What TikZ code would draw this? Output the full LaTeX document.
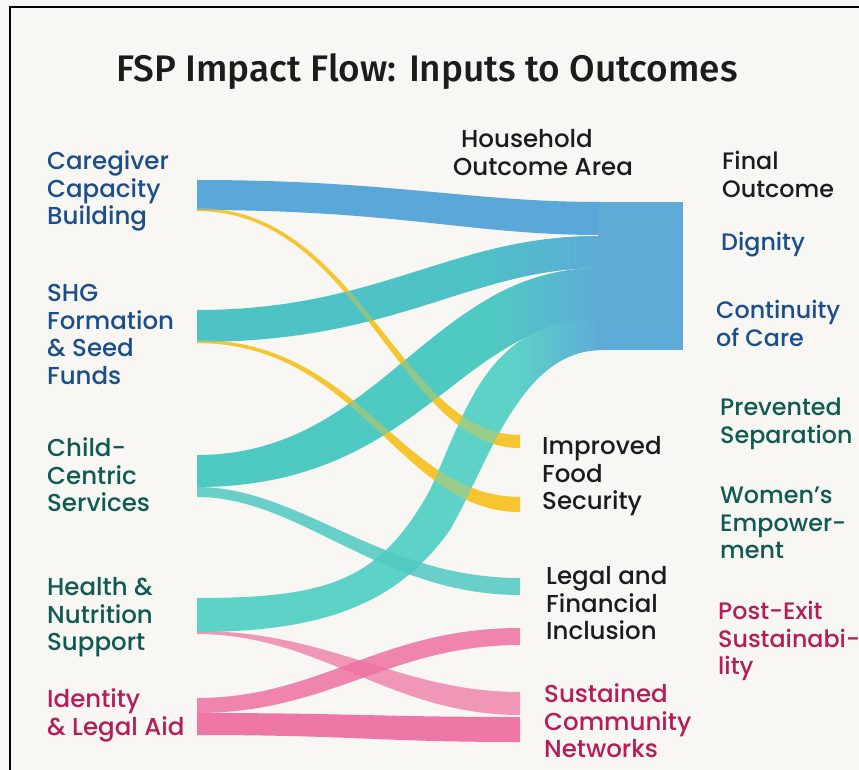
\documentclass[tikz,border=0pt]{standalone}
\usepackage{fontspec}
\setmainfont{Poppins Medium}
\newfontfamily\titlefont{Fira Sans Medium}
\definecolor{bgc}{HTML}{F8F7F4}
\definecolor{blockblue}{HTML}{5EABD7}
\definecolor{cgblue}{HTML}{5AA7D9}
\definecolor{tealA}{HTML}{4DC3C6}
\definecolor{tealB}{HTML}{4FCAC2}
\definecolor{tealC}{HTML}{5DD3C8}
\definecolor{ylw}{HTML}{F6C530}
\definecolor{pinkA}{HTML}{EE71A1}
\definecolor{pinkC}{HTML}{EF86AD}
\definecolor{txblue}{HTML}{1B4F8C}
\definecolor{txteal}{HTML}{0F5B52}
\definecolor{txred}{HTML}{B81B55}
\definecolor{txblack}{HTML}{1C1C1C}
\tikzset{
  lbl/.style={anchor=north west, inner sep=0pt, align=left,
    font=\fontsize{24.5}{27.8}\selectfont},
  rlbl/.style={anchor=north west, inner sep=0pt, align=left,
    font=\fontsize{23.8}{27.8}\selectfont},
  flow/.style={fill opacity=0.85},
}
\newcommand{\st}{\strut}
\begin{document}
\begin{tikzpicture}[x=1pt,y=-1pt]
\useasboundingbox (0,0) rectangle (859,770);
\fill[bgc] (0,0) rectangle (859,770);
\draw[line width=2pt] (10,772) -- (10,7) -- (861,7);

% title
\node[anchor=base, inner sep=0pt, font=\titlefont\fontsize{37}{42}\selectfont, text=txblack] (title) at (427,82) {FSP Impact Flow: Inputs to Outcomes};

% yellow flows (opaque under-layer)
\def\ya{(197,208) .. controls (360,208) and (400,435) .. (520,435) -- (520,448) .. controls (400,448) and (360,211) .. (197,211) -- cycle}
\def\yb{(197,340) .. controls (360,340) and (400,497) .. (520,497) -- (520,512) .. controls (400,512) and (360,343) .. (197,343) -- cycle}
\fill[ylw] \ya;
\fill[ylw] \yb;

% pink flows
\fill[pinkC, fill opacity=0.85] (197,631) .. controls (330,631) and (400,692) .. (520,692) -- (520,715) .. controls (390,715) and (320,634) .. (197,634) -- cycle;
\fill[pinkA, fill opacity=0.85] (197,698) .. controls (320,698) and (380,628) .. (520,628) -- (520,645) .. controls (390,645) and (330,713) .. (197,713) -- cycle;
\fill[pinkA, fill opacity=0.95] (197,713) .. controls (350,713) and (380,717) .. (520,717) -- (520,742) .. controls (380,742) and (350,735) .. (197,735) -- cycle;

% flows into the block
\def\fa{(197,310) .. controls (380,310) and (450,236) .. (600,236) -- (600,268) .. controls (470,268) and (400,342) .. (197,342) -- cycle}
\def\fb{(197,455) .. controls (380,455) and (430,268) .. (600,268) -- (600,320) .. controls (460,320) and (420,487) .. (197,487) -- cycle}
\def\fc{(197,598) .. controls (330,598) and (380,580) .. (430,490) .. controls (470,400) and (490,320) .. (600,320) -- (600,350) .. controls (520,352) and (490,460) .. (450,530) .. controls (400,600) and (330,632) .. (197,632) -- cycle}
\fill[cgblue] (197,180) .. controls (390,180) and (470,202) .. (600,202) -- (600,235) .. controls (470,235) and (400,210) .. (197,210) -- cycle;
\fill[tealA] \fa;
\begin{scope}\clip \fa; \shade[left color=tealA, right color=blockblue] (470,200) rectangle (600,360);\end{scope}
\fill[tealB] \fb;
\begin{scope}\clip \fb; \shade[left color=tealB, right color=blockblue] (490,200) rectangle (600,360);\end{scope}
\fill[tealC] \fc;
\begin{scope}\clip \fc; \shade[left color=tealC, right color=blockblue] (510,200) rectangle (600,460);\end{scope}

% teal branch to legal
\fill[tealB, flow] (197,487) .. controls (300,487) and (380,578) .. (520,578) -- (520,595) .. controls (380,595) and (300,497) .. (197,497) -- cycle;

% yellow glaze over crossings
\fill[ylw, fill opacity=0.4] \ya;
\fill[ylw, fill opacity=0.4] \yb;

% block
\fill[blockblue] (598,202) rectangle (683,350);

% left labels
\node[lbl, text=txblue] (cg) at (47,149.6) {\st Caregiver\\Capacity\\Building};
\node[lbl, text=txblue] (shg) at (47,281.6) {\st SHG\\Formation\\\&~Seed\\Funds};
\node[lbl, text=txteal] (child) at (47,436.6) {\st Child-\\Centric\\Services};
\node[lbl, text=txteal] (health) at (47,575.6) {\st Health \&\\Nutrition\\Support};
\node[lbl, text=txred] (ident) at (47,687.6) {\st Identity\\\&~Legal Aid};

% middle labels
\node[lbl, text=txblack] (hh) at (453,127.6) {\st\hspace{8pt}Household\\Outcome Area};
\node[lbl, text=txblack] (food) at (542,434.6) {\st Improved\\Food\\Security};
\node[lbl, text=txblack] (legal) at (546,564.6) {\st Legal and\\Financial\\Inclusion};
\node[lbl, text=txred] (scn) at (544,682.6) {\st Sustained\\Community\\Networks};

% right labels
\node[rlbl, text=txblack] (final) at (722,149.6) {\st Final\\Outcome};
\node[rlbl, text=txblue] (dig) at (721,230.6) {\st Dignity};
\node[rlbl, text=txblue] (cont) at (716,298.6) {\st Continuity\\of Care};
\node[rlbl, text=txteal] (prev) at (720,395.6) {\st Prevented\\Separation};
\node[rlbl, text=txteal] (women) at (720,483.6) {\st Women’s\\Empower-\\ment};
\node[rlbl, text=txred] (post) at (718,599.6) {\st Post-Exit\\Sustainabi-\\lity};
\end{tikzpicture}
\end{document}
